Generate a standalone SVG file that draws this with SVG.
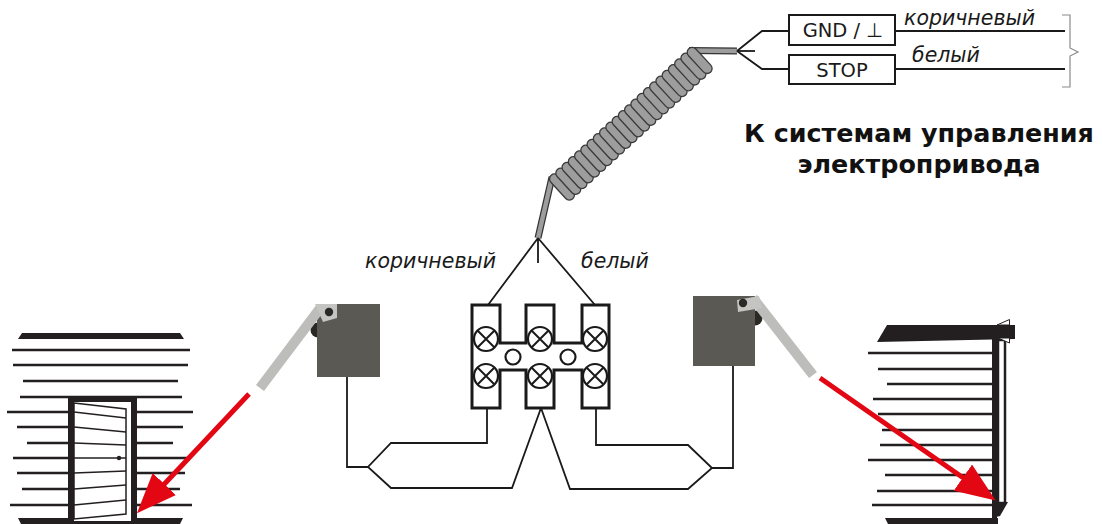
<svg xmlns="http://www.w3.org/2000/svg" xmlns:xlink="http://www.w3.org/1999/xlink" width="1103" height="524" viewBox="0 0 1103 524">
  <style>
    .wire { fill: none; stroke: #1a1a1a; stroke-width: 1.8; stroke-linejoin: miter; }
    .siding { stroke: #231f20; stroke-width: 2.6; }
    .dark { fill: #231f20; }
    .label { font-family: "DejaVu Sans", Verdana, sans-serif; font-style: italic; font-size: 20.5px; fill: #1a1a1a; }
    .boxtext { font-family: "DejaVu Sans", Verdana, sans-serif; font-size: 19.5px; fill: #1a1a1a; text-anchor: middle; }
    .title { font-family: "DejaVu Sans", Verdana, sans-serif; font-weight: bold; font-size: 25.4px; fill: #111; text-anchor: middle; }
    .sensorbox { fill: #5a5954; }
    .lever { stroke: #bdbdbb; stroke-width: 10; fill: none; }
    .plate { fill: #c4c4c2; }
    .knob { fill: #2b2926; }
    .redline { stroke: #e30613; stroke-width: 5; fill: none; }
    .screw { fill: #fff; stroke: #1a1a1a; stroke-width: 2.2; }
    .cross { stroke: #1a1a1a; stroke-width: 2; }
  </style>
  <defs>
    <marker id="redArrow" viewBox="0 0 40 32" markerUnits="userSpaceOnUse" markerWidth="40" markerHeight="32" refX="2" refY="16" orient="auto">
      <path d="M0,0 L40,16 L0,32 Z" fill="#e30613"/>
    </marker>
    <rect id="loop" x="-5" y="-16" width="10" height="32" rx="5" fill="#9d9d9d" stroke="#3a3a3a" stroke-width="1.3"/>
    <g id="screwX">
      <circle r="12" class="screw"/>
      <path d="M-8.5,-8.5 L8.5,8.5 M-8.5,8.5 L8.5,-8.5" class="cross"/>
    </g>
  </defs>

  <rect width="1103" height="524" fill="#fff"/>

  <!-- Building with a swing door (left) -->
  <g id="building-left">
    <polygon class="dark" points="22,333 180,333 184,339 18,339"/>
    <g class="siding">
      <line x1="12" y1="350" x2="190" y2="350"/>
      <line x1="13" y1="365" x2="188" y2="365"/>
      <line x1="23" y1="381" x2="178" y2="381"/>
      <line x1="20" y1="397" x2="182" y2="397"/>
      <line x1="7" y1="412" x2="193" y2="412"/>
      <line x1="17" y1="427" x2="183" y2="427"/>
      <line x1="27" y1="443" x2="173" y2="443"/>
      <line x1="13" y1="458" x2="188" y2="458"/>
      <line x1="17" y1="473" x2="185" y2="473"/>
      <line x1="22" y1="489" x2="180" y2="489"/>
      <line x1="10" y1="505" x2="192" y2="505"/>
    </g>
    <polygon class="dark" points="18,518 183,518 180,524 21,524"/>
    <rect x="71" y="399" width="63" height="125" fill="#fff" stroke="#231f20" stroke-width="6"/>
    <polygon points="74,403 126,409 126,514 74,519" fill="#fff" stroke="#231f20" stroke-width="1.5"/>
    <g stroke="#231f20" stroke-width="1.4">
      <line x1="74" y1="412" x2="126" y2="418"/>
      <line x1="74" y1="427" x2="126" y2="432"/>
      <line x1="74" y1="443" x2="126" y2="445"/>
      <line x1="74" y1="458" x2="126" y2="458"/>
      <line x1="74" y1="473" x2="126" y2="471"/>
      <line x1="74" y1="489" x2="126" y2="485"/>
      <line x1="74" y1="505" x2="126" y2="500"/>
    </g>
    <circle cx="119" cy="458" r="2.2" fill="#231f20"/>
  </g>

  <!-- Building with a roller shutter (right) -->
  <g id="building-right">
    <g class="siding">
      <line x1="868" y1="353" x2="992" y2="353"/>
      <line x1="878" y1="369" x2="992" y2="369"/>
      <line x1="887" y1="384" x2="992" y2="384"/>
      <line x1="873" y1="399" x2="992" y2="399"/>
      <line x1="878" y1="414" x2="992" y2="414"/>
      <line x1="882" y1="430" x2="992" y2="430"/>
      <line x1="880" y1="445" x2="992" y2="445"/>
      <line x1="868" y1="460" x2="992" y2="460"/>
      <line x1="885" y1="475" x2="992" y2="475"/>
      <line x1="877" y1="491" x2="992" y2="491"/>
      <line x1="872" y1="505" x2="992" y2="505"/>
    </g>
    <polygon class="dark" points="885,518 998,518 998,524 888,524"/>
    <line x1="994.5" y1="338" x2="994.5" y2="518" stroke="#231f20" stroke-width="5"/>
    <rect x="998" y="340" width="7" height="163" fill="#fff" stroke="#231f20" stroke-width="2.5"/>
    <polygon class="dark" points="992,502 1008,502 1000,516 992,518"/>
    <polygon class="dark" points="887,325 1015,325 1015,339 877,342"/>
    <polygon points="997,325 1009.5,319.5 1009.5,325" fill="#fff" stroke="#231f20" stroke-width="1"/>
    <polygon points="998,338 1009.5,338 1009.5,343" fill="#fff" stroke="#231f20" stroke-width="1"/>
  </g>

  <!-- Left sensor with lever -->
  <g id="sensor-left">
    <circle class="knob" cx="318" cy="330" r="7.5"/>
    <rect class="sensorbox" x="317" y="304" width="63" height="73"/>
    <line class="lever" x1="321" y1="307" x2="260" y2="388"/>
    <polygon class="plate" points="315,304 337,304 337,318 323,322"/>
    <circle class="knob" cx="329" cy="312" r="4.2"/>
  </g>

  <!-- Right sensor with lever -->
  <g id="sensor-right">
    <circle class="knob" cx="755" cy="318" r="7.5"/>
    <rect class="sensorbox" x="693" y="296" width="62" height="70"/>
    <line class="lever" x1="753" y1="298" x2="813" y2="375"/>
    <polygon class="plate" points="737,300 759,296 762,308 738,312"/>
    <circle class="knob" cx="743" cy="303" r="4.2"/>
  </g>

  <!-- Direction arrows from the sensors -->
  <g id="arrows">
    <line class="redline" x1="249" y1="394" x2="163" y2="485.5" marker-end="url(#redArrow)"/>
    <line class="redline" x1="820" y1="378" x2="964.5" y2="478.8" marker-end="url(#redArrow)"/>
  </g>

  <!-- Terminal block -->
  <g id="terminal-block">
    <path d="M472,305 H500 V343 H526 V305 H554 V343 H582 V305 H609 V408 H582 V370 H554 V408 H526 V370 H500 V408 H472 Z" fill="#fff" stroke="#1a1a1a" stroke-width="3"/>
    <use xlink:href="#screwX" x="486" y="339"/>
    <use xlink:href="#screwX" x="540" y="339"/>
    <use xlink:href="#screwX" x="595" y="339"/>
    <use xlink:href="#screwX" x="486" y="376"/>
    <use xlink:href="#screwX" x="540" y="376"/>
    <use xlink:href="#screwX" x="595" y="376"/>
    <circle cx="513" cy="357" r="7.5" class="screw"/>
    <circle cx="568" cy="357" r="7.5" class="screw"/>
  </g>

  <!-- Coiled cable -->
  <g id="coil-cable">
    <path d="M552,177 L538,238" stroke="#333" stroke-width="7" fill="none"/>
    <path d="M552,177 L538,238" stroke="#9d9d9d" stroke-width="4.5" fill="none"/>
    <path d="M689,50.5 L737,51" stroke="#333" stroke-width="7" fill="none"/>
    <path d="M689,50.5 L737,51" stroke="#9d9d9d" stroke-width="4.5" fill="none"/>
    <g transform="translate(562,187) rotate(-42.6)">
      <use xlink:href="#loop" x="0"/>
      <use xlink:href="#loop" x="8.5"/>
      <use xlink:href="#loop" x="17"/>
      <use xlink:href="#loop" x="25.5"/>
      <use xlink:href="#loop" x="34"/>
      <use xlink:href="#loop" x="42.5"/>
      <use xlink:href="#loop" x="51"/>
      <use xlink:href="#loop" x="59.5"/>
      <use xlink:href="#loop" x="68"/>
      <use xlink:href="#loop" x="76.5"/>
      <use xlink:href="#loop" x="85"/>
      <use xlink:href="#loop" x="93.5"/>
      <use xlink:href="#loop" x="102"/>
      <use xlink:href="#loop" x="110.5"/>
      <use xlink:href="#loop" x="119"/>
      <use xlink:href="#loop" x="127.5"/>
      <use xlink:href="#loop" x="136"/>
      <use xlink:href="#loop" x="144.5"/>
      <use xlink:href="#loop" x="153"/>
      <use xlink:href="#loop" x="161.5"/>
      <use xlink:href="#loop" x="170"/>
      <use xlink:href="#loop" x="178.5"/>
      <use xlink:href="#loop" x="187"/>
    </g>
  </g>

  <!-- Output terminals -->
  <g id="output-gnd">
    <rect x="789" y="15" width="106" height="30" fill="#fff" stroke="#1a1a1a" stroke-width="2"/>
    <text class="boxtext" x="843" y="37">GND / ⊥</text>
  </g>
  <g id="output-stop">
    <rect x="789" y="55" width="106" height="29" fill="#fff" stroke="#1a1a1a" stroke-width="2"/>
    <text class="boxtext" x="842" y="76.5">STOP</text>
  </g>

  <!-- Wiring -->
  <g id="connectors">
    <path class="wire" d="M737,51 L762,31 H789 M895,31 H1065"/>
    <path class="wire" d="M737,51 L762,69 H789 M895,69 H1065"/>
    <path class="wire" d="M737,51 H755"/>
    <path class="wire" d="M538,238 L488,305 M538,238 L595,305 M538,238 V263"/>
    <path class="wire" d="M487,408 V443 H391 L368,467 L391,488 H512 L541,408"/>
    <path class="wire" d="M541,408 L570,489 H688 L712,468 L688,445 H596 V408"/>
    <path class="wire" d="M347,377 V467 H368"/>
    <path class="wire" d="M733,366 V468 H712"/>
    <path d="M1062,15 H1070 V48 L1078,52 L1070,56 V87 H1062" fill="none" stroke="#8a8a8a" stroke-width="1.2"/>
  </g>

  <!-- Wire colour labels -->
  <g id="labels">
    <text class="label" x="904" y="25">коричневый</text>
    <text class="label" x="912" y="62">белый</text>
    <text class="label" x="365" y="268">коричневый</text>
    <text class="label" x="581" y="268">белый</text>
  </g>

  <g id="title">
    <text class="title" x="919" y="142">К системам управления</text>
    <text class="title" x="919" y="173">электропривода</text>
  </g>
</svg>
